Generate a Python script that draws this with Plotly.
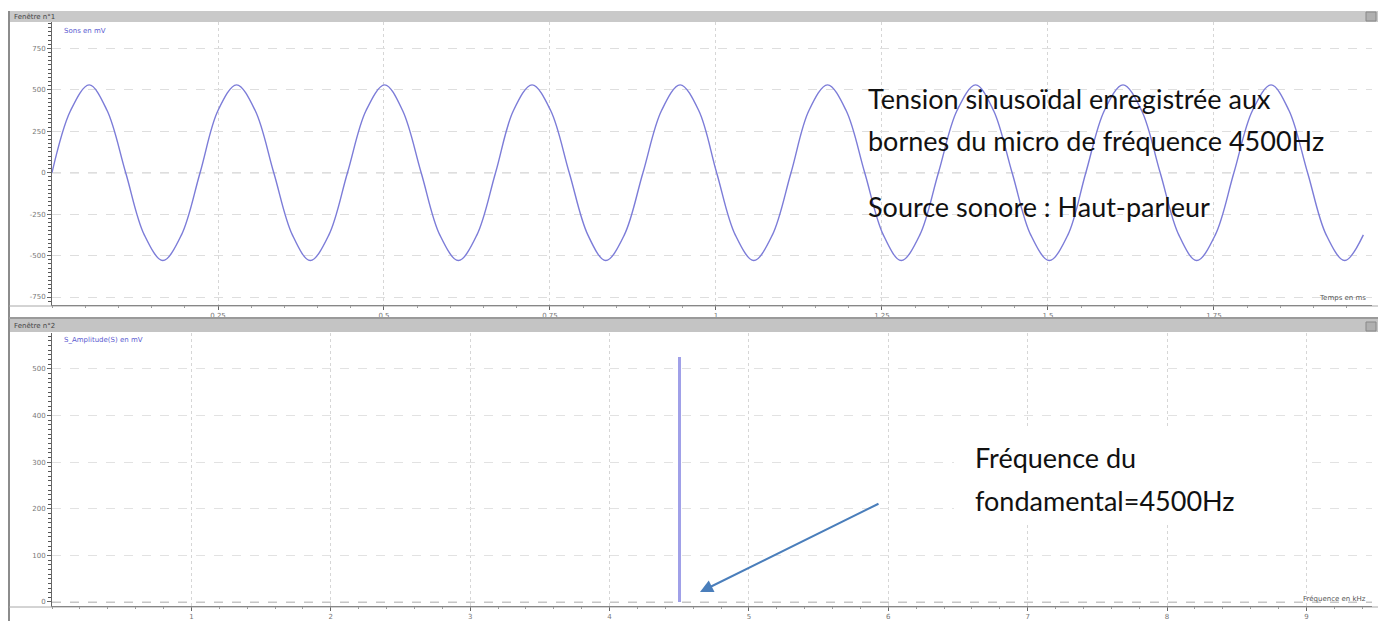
import plotly.graph_objects as go

W, H = 1378, 621

# ---- data ----
time_ms = [0.000, 0.028, 0.056, 0.083, 0.111, 0.139, 0.167, 0.195,
           0.223, 0.250, 0.278, 0.306, 0.334, 0.362, 0.389, 0.417,
           0.445, 0.473, 0.501, 0.528, 0.556, 0.584, 0.612, 0.640,
           0.668, 0.695, 0.723, 0.751, 0.779, 0.807, 0.834, 0.862,
           0.890, 0.918, 0.946, 0.974, 1.001, 1.029, 1.057, 1.085,
           1.113, 1.140, 1.168, 1.196, 1.224, 1.252, 1.279, 1.307,
           1.335, 1.363, 1.391, 1.418, 1.446, 1.474, 1.502, 1.530,
           1.557, 1.585, 1.613, 1.641, 1.669, 1.697, 1.724, 1.752,
           1.780, 1.808, 1.836, 1.863, 1.891, 1.919, 1.947, 1.975]
sons_mv = [0, 375, 530, 375, 0, -375, -530, -375,
           0, 375, 530, 375, 0, -375, -530, -375,
           0, 375, 530, 375, 0, -375, -530, -375,
           0, 375, 530, 375, 0, -375, -530, -375,
           0, 375, 530, 375, 0, -375, -530, -375,
           0, 375, 530, 375, 0, -375, -530, -375,
           0, 375, 530, 375, 0, -375, -530, -375,
           0, 375, 530, 375, 0, -375, -530, -375,
           0, 375, 530, 375, 0, -375, -530, -375]

freq_khz = [4.5]
amplitude_mv = [526]

time_ticks = [0.25, 0.5, 0.75, 1, 1.25, 1.5, 1.75]
time_labels = ["0.25", "0.5", "0.75", "1", "1.25", "1.5", "1.75"]
sons_ticks = [-750, -500, -250, 0, 250, 500, 750]
sons_labels = ["-750", "-500", "-250", "0", "250", "500", "750"]
freq_ticks = [1, 2, 3, 4, 5, 6, 7, 8, 9]
freq_labels = ["1", "2", "3", "4", "5", "6", "7", "8", "9"]
amp_ticks = [0, 100, 200, 300, 400, 500]
amp_labels = ["0", "100", "200", "300", "400", "500"]


def px(x):
    return x / W


def py(y):
    return 1 - y / H


curve_color = "#7c7cd8"
tick_font = dict(family="DejaVu Sans", size=7, color="#777777")

fig = go.Figure()
fig.add_trace(go.Scatter(x=time_ms, y=sons_mv, mode="lines",
                         line=dict(color=curve_color, width=1.4, shape="spline"),
                         xaxis="x", yaxis="y", showlegend=False, hoverinfo="skip"))
fig.add_trace(go.Bar(x=freq_khz, y=amplitude_mv, width=0.02,
                     marker=dict(color="#a0a0e8", line=dict(width=0)),
                     xaxis="x2", yaxis="y2", showlegend=False, hoverinfo="skip"))

xdom = [px(52), px(1372)]
axis_common = dict(showline=True, linecolor="#666666", linewidth=1,
                   ticks="outside", ticklen=4, tickcolor="#666666",
                   tickfont=tick_font, zeroline=False, automargin=False,
                   gridcolor="#d6d6d6", griddash="dot", gridwidth=1)

fig.update_layout(
    width=W, height=H, autosize=False,
    margin=dict(l=0, r=0, t=0, b=0),
    paper_bgcolor="white", plot_bgcolor="white",
    bargap=0,
    xaxis=dict(domain=xdom, range=[0, 1.988], anchor="y",
               tickvals=time_ticks, ticktext=time_labels,
               minor=dict(dtick=0.05, ticklen=2, tickcolor="#999999", showgrid=False),
               **axis_common),
    yaxis=dict(domain=[py(305), py(22)], range=[-798, 909], anchor="x",
               tickvals=sons_ticks, ticktext=sons_labels,
               minor=dict(dtick=25, ticklen=3, tickcolor="#555555", showgrid=False),
               **{**axis_common, "griddash": "dash", "gridcolor": "#dedede"}),
    xaxis2=dict(domain=xdom, range=[0, 9.47], anchor="y2",
                tickvals=freq_ticks, ticktext=freq_labels,
                minor=dict(dtick=0.2, ticklen=2, tickcolor="#999999", showgrid=False),
                **axis_common),
    yaxis2=dict(domain=[py(606), py(333)], range=[-8.6, 577], anchor="x2",
                tickvals=amp_ticks, ticktext=amp_labels,
                minor=dict(dtick=10, ticklen=3, tickcolor="#555555", showgrid=False),
                **{**axis_common, "griddash": "dash", "gridcolor": "#e2e2e2"}),
)

shapes = []
# zero reference lines (dashed)
shapes.append(dict(type="line", xref="x domain", yref="y", x0=0, x1=1, y0=0, y1=0,
                   line=dict(color="#8a8a8a", width=1, dash="dash"), layer="below"))
shapes.append(dict(type="line", xref="x2 domain", yref="y2", x0=0, x1=1, y0=0, y1=0,
                   line=dict(color="#8a8a8a", width=1, dash="dash"), layer="below"))
# window chrome
shapes.append(dict(type="rect", xref="paper", yref="paper", x0=px(8), x1=1, y0=py(22), y1=py(11),
                   fillcolor="#c9c9c9", line=dict(width=0), layer="above"))
shapes.append(dict(type="rect", xref="paper", yref="paper", x0=px(8), x1=1, y0=py(332), y1=py(319),
                   fillcolor="#c4c4c4", line=dict(width=0), layer="above"))
shapes.append(dict(type="line", xref="paper", yref="paper", x0=px(9), x1=px(9), y0=0, y1=py(11),
                   line=dict(color="#8c8c8c", width=2), layer="above"))
shapes.append(dict(type="line", xref="paper", yref="paper", x0=px(9), x1=1, y0=py(318), y1=py(318),
                   line=dict(color="#9a9a9a", width=2), layer="above"))
shapes.append(dict(type="line", xref="paper", yref="paper", x0=px(9), x1=1, y0=py(306), y1=py(306),
                   line=dict(color="#a8a8a8", width=1), layer="above"))
shapes.append(dict(type="line", xref="paper", yref="paper", x0=px(9), x1=1, y0=py(607), y1=py(607),
                   line=dict(color="#a8a8a8", width=1), layer="above"))
shapes.append(dict(type="rect", xref="paper", yref="paper", x0=px(1366), x1=px(1376), y0=py(21), y1=py(12),
                   fillcolor="#b0b0b0", line=dict(color="#888888", width=1), layer="above"))
shapes.append(dict(type="rect", xref="paper", yref="paper", x0=px(1366), x1=px(1376), y0=py(331), y1=py(322),
                   fillcolor="#b0b0b0", line=dict(color="#888888", width=1), layer="above"))
# white text box in the lower window
shapes.append(dict(type="rect", xref="paper", yref="paper", x0=px(954), x1=px(1306), y0=py(522), y1=py(429),
                   fillcolor="white", line=dict(width=0), layer="above"))

annotations = []
small = dict(family="DejaVu Sans", size=7)
annotations.append(dict(text="Fenêtre n°1", x=px(12), y=py(16.5), xref="paper", yref="paper",
                        xanchor="left", yanchor="middle", showarrow=False,
                        font=dict(**small, color="#444444")))
annotations.append(dict(text="Fenêtre n°2", x=px(12), y=py(325.5), xref="paper", yref="paper",
                        xanchor="left", yanchor="middle", showarrow=False,
                        font=dict(**small, color="#444444")))
annotations.append(dict(text="Sons en mV", x=px(62), y=py(31), xref="paper", yref="paper",
                        xanchor="left", yanchor="middle", showarrow=False,
                        font=dict(**small, color="#5a5ad0")))
annotations.append(dict(text="S_Amplitude(S) en mV", x=px(62), y=py(340), xref="paper", yref="paper",
                        xanchor="left", yanchor="middle", showarrow=False,
                        font=dict(**small, color="#5a5ad0")))
annotations.append(dict(text="Temps en ms", x=px(1368), y=py(298), xref="paper", yref="paper",
                        xanchor="right", yanchor="middle", showarrow=False,
                        font=dict(**small, color="#555555")))
annotations.append(dict(text="Fréquence en kHz", x=px(1368), y=py(599), xref="paper", yref="paper",
                        xanchor="right", yanchor="middle", showarrow=False,
                        font=dict(**small, color="#555555")))

big = dict(family="Lato", size=27, color="#111111")
for txt, yy in [("Tension sinusoïdal enregistrée aux", 98),
                ("bornes du micro de fréquence 4500Hz", 140),
                ("Source sonore : Haut-parleur", 207)]:
    annotations.append(dict(text=txt, x=px(866), y=py(yy), xref="paper", yref="paper",
                            xanchor="left", yanchor="middle", showarrow=False, font=big))
for txt, yy in [("Fréquence du", 458), ("fondamental=4500Hz", 500)]:
    annotations.append(dict(text=txt, x=px(973), y=py(yy), xref="paper", yref="paper",
                            xanchor="left", yanchor="middle", showarrow=False, font=big))

# arrow pointing at the fundamental
annotations.append(dict(text="", x=px(700), y=py(592), xref="paper", yref="paper",
                        ax=180, ay=-89, axref="pixel", ayref="pixel",
                        showarrow=True, arrowhead=2, arrowsize=1.3, arrowwidth=2,
                        arrowcolor="#4a7ebb"))

fig.update_layout(shapes=shapes, annotations=annotations)

fig.write_html("out.html",
               config={"displayModeBar": False},
               post_script="document.body.style.margin='0';document.body.style.padding='0';")
